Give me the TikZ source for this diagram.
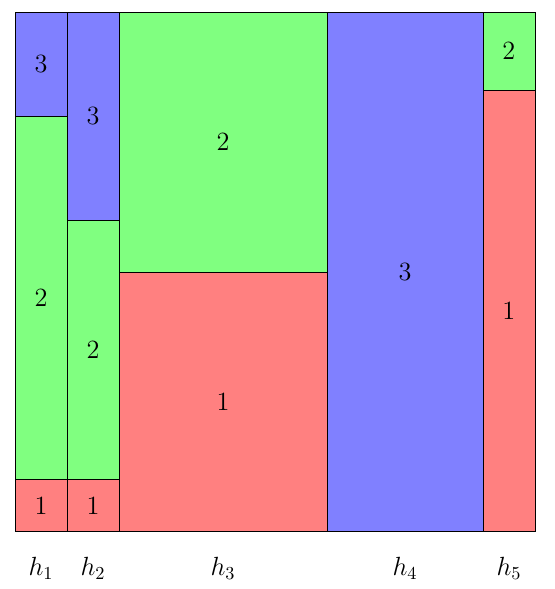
\documentclass[tikz,border=0pt]{standalone}
\usepackage{amsmath}
\usepackage{tikz}

\begin{document}
\begin{tikzpicture}[scale=1.0, font=\Large]
  \tikzset{
    redcell/.style={draw, fill=red!50},
    greencell/.style={draw, fill=green!50},
    bluecell/.style={draw, fill=blue!50}
  }
  \useasboundingbox (-0.29,-1.1) rectangle (10.38,10.23);
  % column h_1: widths 1, heights 1 / 7 / 2
  \draw[redcell]   (0,0) rectangle (1,1);
  \draw[greencell] (0,1) rectangle (1,8);
  \draw[bluecell]  (0,8) rectangle (1,10);
  % column h_2: heights 1 / 5 / 4
  \draw[redcell]   (1,0) rectangle (2,1);
  \draw[greencell] (1,1) rectangle (2,6);
  \draw[bluecell]  (1,6) rectangle (2,10);
  % column h_3: width 4, heights 5 / 5
  \draw[redcell]   (2,0) rectangle (6,5);
  \draw[greencell] (2,5) rectangle (6,10);
  % column h_4: width 3, all blue
  \draw[bluecell]  (6,0) rectangle (9,10);
  % column h_5: heights 8.5 / 1.5
  \draw[redcell]   (9,0) rectangle (10,8.5);
  \draw[greencell] (9,8.5) rectangle (10,10);
  % cell labels
  \node (a1) at (0.5,0.5) {1};
  \node (a2) at (0.5,4.5) {2};
  \node (a3) at (0.5,9) {3};
  \node (b1) at (1.5,0.5) {1};
  \node (b2) at (1.5,3.5) {2};
  \node (b3) at (1.5,8) {3};
  \node (c1) at (4,2.5) {1};
  \node (c2) at (4,7.5) {2};
  \node (d3) at (7.5,5) {3};
  \node (e1) at (9.5,4.25) {1};
  \node (e2) at (9.5,9.25) {2};
  % column names
  \node (h1) at (0.5,-0.7) {$h_1$};
  \node (h2) at (1.5,-0.7) {$h_2$};
  \node (h3) at (4,-0.7) {$h_3$};
  \node (h4) at (7.5,-0.7) {$h_4$};
  \node (h5) at (9.5,-0.7) {$h_5$};
\end{tikzpicture}
\end{document}
